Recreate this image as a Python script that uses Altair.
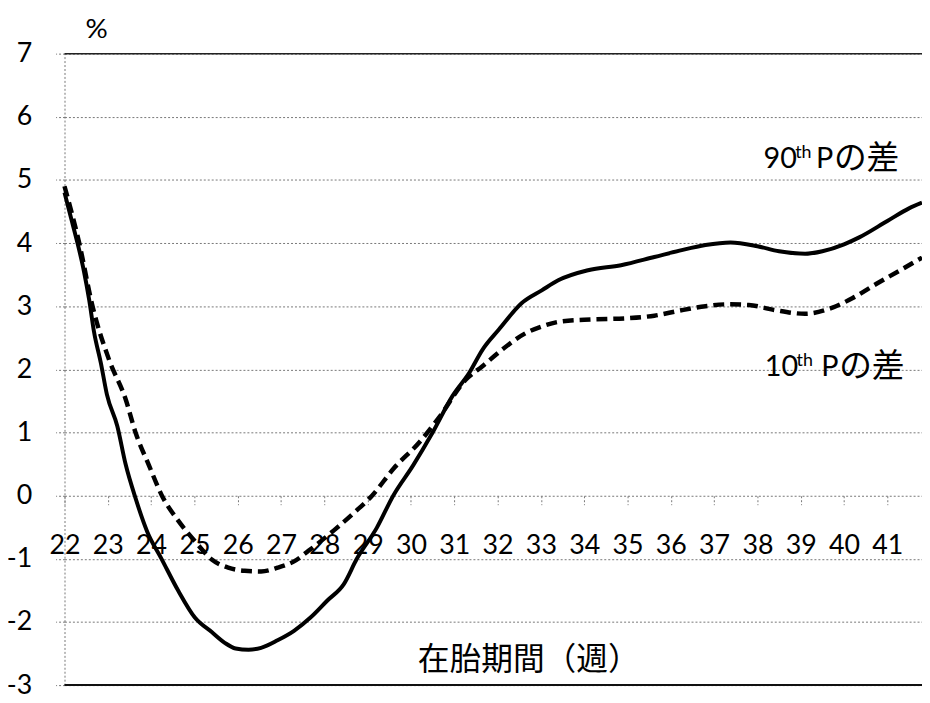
import altair as alt
import pandas as pd

# 90th percentile difference (solid line)
weeks_p90 = [22.0, 22.15, 22.3, 22.45, 22.57, 22.68, 22.84, 22.98, 23.22, 23.41,
             23.64, 23.91, 24.24, 24.63, 25.01, 25.4, 25.7, 25.95, 26.25, 26.54,
             26.92, 27.3, 27.68, 28.07, 28.45, 28.75, 29.21, 29.59, 30.05, 30.5,
             30.96, 31.35, 31.65, 32.03, 32.56, 33.02, 33.4, 34.09, 34.85, 35.62,
             36.2, 36.8, 37.38, 38.0, 38.5, 39.1, 39.5, 40.0, 40.35, 41.0, 41.5, 41.8]
diff_p90 = [4.8, 4.4, 4.0, 3.55, 3.1, 2.6, 2.1, 1.6, 1.1, 0.5,
            -0.04, -0.57, -1.0, -1.51, -1.93, -2.16, -2.33, -2.42, -2.44, -2.41,
            -2.29, -2.14, -1.93, -1.66, -1.40, -1.0, -0.51, 0.0, 0.48, 1.0,
            1.58, 1.95, 2.31, 2.63, 3.05, 3.25, 3.41, 3.57, 3.65, 3.78,
            3.88, 3.97, 4.01, 3.95, 3.87, 3.83, 3.87, 3.98, 4.09, 4.35, 4.55, 4.64]

# 10th percentile difference (dashed line)
weeks_p10 = [22.0, 22.34, 22.65, 23.03, 23.41, 23.64, 23.95, 24.25, 24.63, 25.01,
             25.4, 25.78, 26.16, 26.54, 26.92, 27.3, 27.68, 28.22, 28.67, 29.1,
             29.6, 30.2, 30.65, 31.27, 31.65, 32.1, 32.64, 33.02, 33.48, 34.17,
             35.0, 35.62, 36.2, 36.8, 37.3, 37.8, 38.4, 39.1, 39.7, 40.2,
             40.76, 41.3, 41.8]
diff_p10 = [4.9, 4.0, 2.99, 2.15, 1.53, 1.0, 0.48, 0.0, -0.4, -0.72,
            -1.01, -1.14, -1.19, -1.2, -1.14, -1.04, -0.85, -0.55, -0.28, 0.0,
            0.43, 0.85, 1.24, 1.84, 2.05, 2.31, 2.57, 2.68, 2.76, 2.79,
            2.81, 2.85, 2.93, 3.0, 3.03, 3.02, 2.94, 2.88, 2.97, 3.13,
            3.36, 3.57, 3.77]

x_ticks = list(range(22, 42))
y_ticks = list(range(-3, 8))
x_title = "在胎期間（週）"
y_title = "%"
label_90 = ["90", "th", "P", "の差"]
label_10 = ["10", "th", "P", "の差"]

FONT = "Lato, Noto Sans CJK JP, sans-serif"
W, H = 865, 637

df90 = pd.DataFrame({"week": weeks_p90, "diff": diff_p90})
df10 = pd.DataFrame({"week": weeks_p10, "diff": diff_p10})

xs = alt.Scale(domain=[22, 41.8], nice=False, zero=False)
ys = alt.Scale(domain=[-3, 7], nice=False, zero=False)

x_axis = alt.Axis(values=x_ticks, offset=-191, domain=False, grid=False,
                  tickSize=9, tickColor="#777", tickDash=[2, 2], tickWidth=1,
                  labelFont=FONT, labelFontSize=27, labelColor="black",
                  labelPadding=28, labelFlush=False, labelOverlap=False,
                  labelExpr="'' + datum.value", title=None)
y_axis = alt.Axis(values=y_ticks, domain=True, domainColor="#777", domainDash=[2, 2],
                  domainWidth=1, grid=True, gridColor="#777", gridDash=[2, 2], gridWidth=1,
                  tickSize=9, tickColor="#777", tickDash=[2, 2], tickWidth=1,
                  labelFont=FONT, labelFontSize=27, labelColor="black", labelPadding=24,
                  labelExpr="'' + datum.value", title=y_title, titleAngle=0, titleFont=FONT,
                  titleFontSize=28, titleFontWeight="normal", titleColor="black",
                  titleX=32, titleY=-24, titleAlign="center", titleBaseline="middle")

line90 = alt.Chart(df90).mark_line(color="black", strokeWidth=4, interpolate="monotone").encode(
    x=alt.X("week:Q", scale=xs, axis=x_axis),
    y=alt.Y("diff:Q", scale=ys, axis=y_axis),
)
line10 = alt.Chart(df10).mark_line(color="black", strokeWidth=4.5, strokeDash=[11, 6],
                                   interpolate="monotone").encode(
    x=alt.X("week:Q", scale=xs),
    y=alt.Y("diff:Q", scale=ys),
)

top_rule = alt.Chart().mark_rule(color="#222", strokeWidth=1.5).encode(y=alt.datum(7, scale=ys))
bottom_rule = alt.Chart().mark_rule(color="#111", strokeWidth=2).encode(y=alt.datum(-3, scale=ys))


def txt(s, x, y, size, dx=0, dy=0, align="left"):
    return alt.Chart().mark_text(text=s, font=FONT, fontSize=size, color="black",
                                 align=align, baseline="middle", dx=dx, dy=dy).encode(
        x=alt.datum(x, scale=xs), y=alt.datum(y, scale=ys))


ann = [
    txt(label_90[0], 38.14, 5.33, 29),
    txt(label_90[1], 38.14, 5.33, 18, dx=32, dy=-6),
    txt(label_90[2], 38.14, 5.33, 29, dx=53),
    txt(label_90[3], 38.14, 5.33, 33, dx=71),
    txt(label_10[0], 38.17, 2.03, 29),
    txt(label_10[1], 38.17, 2.03, 18, dx=32, dy=-6),
    txt(label_10[2], 38.17, 2.03, 29, dx=57),
    txt(label_10[3], 38.17, 2.03, 33, dx=75),
    txt(x_title, 32.72, -2.6, 32, align="center"),
]

chart = alt.layer(line90, line10, top_rule, bottom_rule, *ann).properties(
    width=W, height=H,
    padding={"left": 57, "top": 43, "right": 0, "bottom": 14},
    autosize=alt.AutoSizeParams(type="none"),
    background="white",
).configure_view(stroke=None)

chart.save("out.html", embed_options={"renderer": "svg", "actions": False})
